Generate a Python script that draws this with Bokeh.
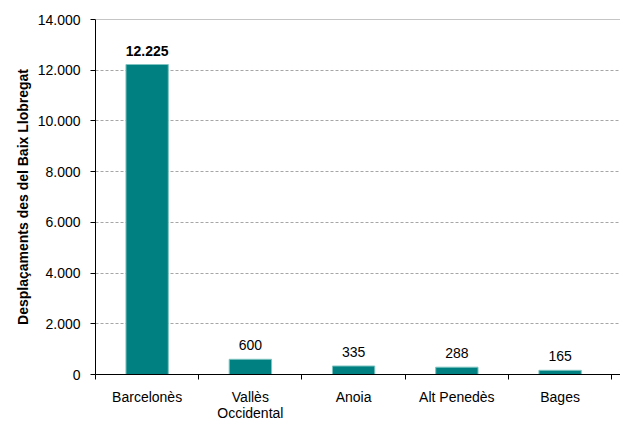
from bokeh.plotting import figure
from bokeh.models import ColumnDataSource, FixedTicker, Span, LabelSet
from bokeh.core.properties import value
from bokeh.embed import file_html
from bokeh.resources import INLINE

categories = ["Barcelonès", "Vallès\nOccidental", "Anoia", "Alt Penedès", "Bages"]
values = [12225, 600, 335, 288, 165]
value_labels = ["12.225", "600", "335", "288", "165"]
y_ticks = [0, 2000, 4000, 6000, 8000, 10000, 12000, 14000]
y_tick_labels = ["0", "2.000", "4.000", "6.000", "8.000", "10.000", "12.000", "14.000"]

FONT = "Liberation Sans"

xs = [i + 0.5 for i in range(len(categories))]
src = ColumnDataSource(dict(x=xs, top=values, lab=value_labels,
                            style=["bold"] + ["normal"] * (len(values) - 1)))

p = figure(width=620, height=423, output_backend="svg", toolbar_location=None,
           x_range=(0, 5.085), y_range=(0, 14000),
           min_border_left=95, min_border_top=19, min_border_bottom=45, min_border_right=0)
p.outline_line_color = None
p.background_fill_color = "white"
p.border_fill_color = "white"

p.vbar(x="x", top="top", width=0.41, source=src, fill_color="#008080",
       line_color="#7fc4c0", line_width=1)

labels = LabelSet(x="x", y="top", text="lab", source=src, text_align="center",
                  text_baseline="bottom", y_offset=9, text_font=value(FONT),
                  text_font_size="14px", text_color="black", text_font_style="style")
p.add_layout(labels)

# x axis
p.xaxis.ticker = FixedTicker(ticks=xs, minor_ticks=[0, 1, 2, 3, 4, 5])
p.xaxis.major_label_overrides = {x: c for x, c in zip(xs, categories)}
p.xaxis.major_tick_out = 0
p.xaxis.major_tick_in = 0
p.xaxis.minor_tick_out = 5
p.xaxis.minor_tick_in = 0
p.xaxis.minor_tick_line_color = "black"
p.xaxis.axis_line_color = "black"
p.xaxis.major_label_text_font = FONT
p.xaxis.major_label_text_font_size = "14px"
p.xaxis.major_label_text_color = "black"
p.xaxis.major_label_text_line_height = 1.0
p.xaxis.major_label_standoff = 9
p.xgrid.grid_line_color = None

# y axis
p.yaxis.ticker = FixedTicker(ticks=y_ticks)
p.yaxis.major_label_overrides = {t: l for t, l in zip(y_ticks, y_tick_labels)}
p.yaxis.major_tick_out = 5
p.yaxis.major_tick_in = 0
p.yaxis.minor_tick_line_color = None
p.yaxis.axis_line_color = "black"
p.yaxis.major_tick_line_color = "black"
p.yaxis.major_label_text_font = FONT
p.yaxis.major_label_text_font_size = "14px"
p.yaxis.major_label_text_color = "black"
p.yaxis.major_label_standoff = 10
p.yaxis.axis_label = "Desplaçaments des del Baix Llobregat"
p.yaxis.axis_label_text_font = FONT
p.yaxis.axis_label_text_font_size = "14px"
p.yaxis.axis_label_text_font_style = "bold"
p.yaxis.axis_label_text_color = "black"
p.yaxis.axis_label_standoff = 4

p.ygrid.ticker = FixedTicker(ticks=y_ticks[1:-1])
p.ygrid.grid_line_color = "#a6a6a6"
p.ygrid.grid_line_dash = "3 2"
p.ygrid.grid_line_width = 1

p.add_layout(Span(location=14000, dimension="width", line_color="#8c8c8c", line_width=1))

open("out.html", "w").write(file_html(p, INLINE))
